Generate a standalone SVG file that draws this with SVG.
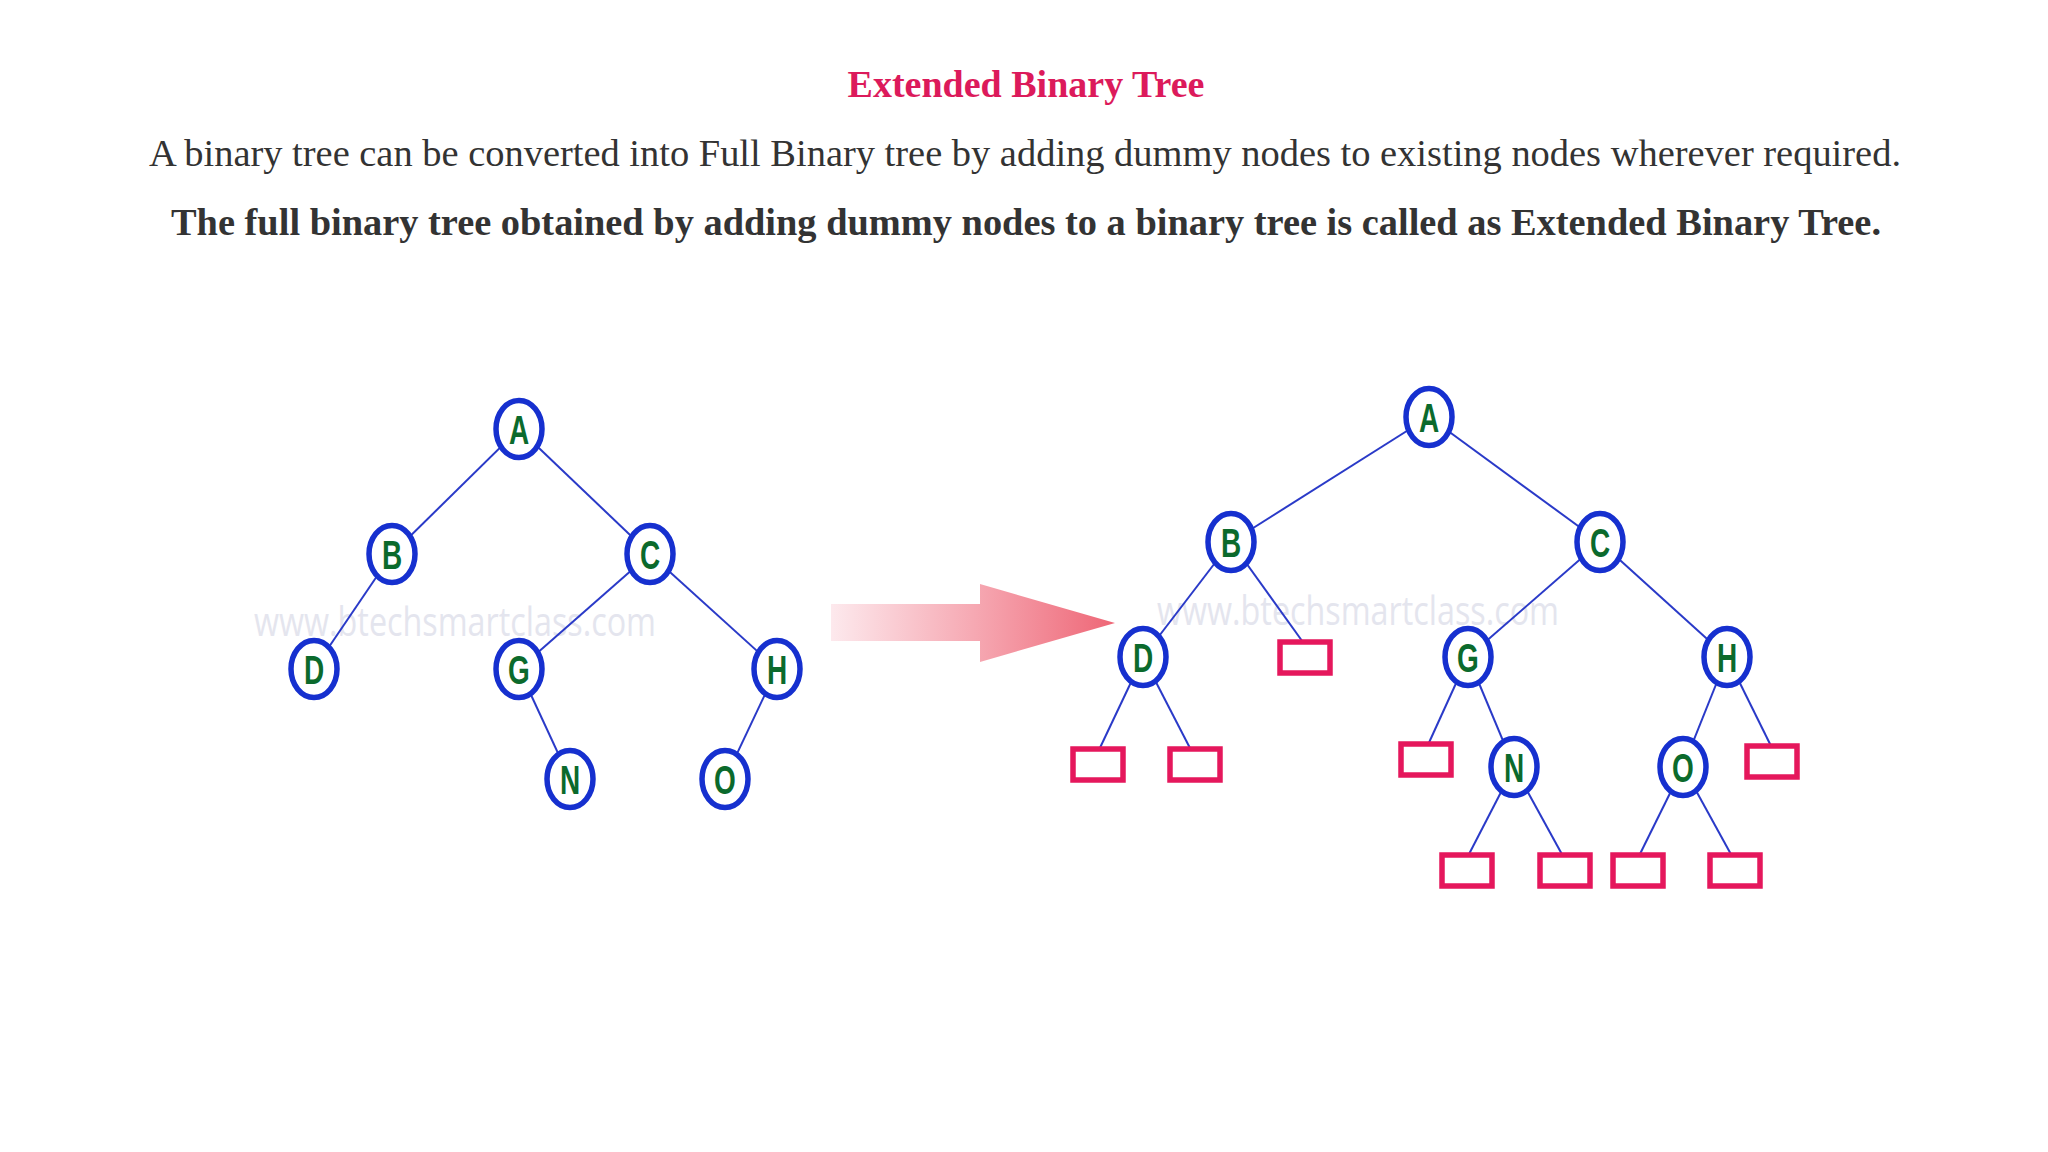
<svg xmlns="http://www.w3.org/2000/svg" width="2048" height="1152" viewBox="0 0 2048 1152">
<defs>
<linearGradient id="arrowGrad" gradientUnits="userSpaceOnUse" x1="831" y1="0" x2="1115" y2="0">
<stop offset="0" stop-color="#fde9ed"/>
<stop offset="0.5" stop-color="#f6a9b3"/>
<stop offset="1" stop-color="#ee6676"/>
</linearGradient>
<style>
.title{font-family:"Liberation Serif","Times New Roman",serif;font-weight:bold;font-size:38px;fill:#dc1a5b;text-anchor:middle}
.body{font-family:"Liberation Serif","Times New Roman",serif;font-size:37.5px;fill:#333333}
.bodyb{font-family:"Liberation Serif","Times New Roman",serif;font-weight:bold;font-size:37.5px;fill:#333333}
.wm{font-family:"Open Sans","Liberation Sans",sans-serif;font-size:40px;fill:#e4e5ee}
.edge{stroke:#2a3ac8;stroke-width:2;fill:none}
.node ellipse{fill:#ffffff;stroke:#1630cf;stroke-width:5.5}
.node text{font-family:"Liberation Sans",Arial,sans-serif;font-weight:bold;font-size:40px;fill:#0b6a2c;text-anchor:middle}
.dummy rect{fill:#ffffff;stroke:#e5175c;stroke-width:5.5}
</style>
</defs>
<rect width="2048" height="1152" fill="#ffffff"/>

<text class="title" x="1026" y="97">Extended Binary Tree</text>
<text class="body" x="149" y="166" textLength="1752" lengthAdjust="spacingAndGlyphs">A binary tree can be converted into Full Binary tree by adding dummy nodes to existing nodes wherever required.</text>
<text class="bodyb" x="171" y="235" textLength="1710" lengthAdjust="spacingAndGlyphs">The full binary tree obtained by adding dummy nodes to a binary tree is called as Extended Binary Tree.</text>

<text class="wm" x="254" y="636" textLength="402" lengthAdjust="spacingAndGlyphs">www.btechsmartclass.com</text>
<text class="wm" x="1157" y="625" textLength="402" lengthAdjust="spacingAndGlyphs">www.btechsmartclass.com</text>

<g id="connectors">
<!-- left tree -->
<line class="edge" x1="519" y1="429" x2="392" y2="554"/>
<line class="edge" x1="519" y1="429" x2="650" y2="554"/>
<line class="edge" x1="392" y1="554" x2="314" y2="669"/>
<line class="edge" x1="650" y1="554" x2="519" y2="669"/>
<line class="edge" x1="650" y1="554" x2="777" y2="669"/>
<line class="edge" x1="519" y1="669" x2="570" y2="779"/>
<line class="edge" x1="777" y1="669" x2="725" y2="779"/>
<!-- right tree -->
<line class="edge" x1="1429" y1="417" x2="1231" y2="542"/>
<line class="edge" x1="1429" y1="417" x2="1600" y2="542"/>
<line class="edge" x1="1231" y1="542" x2="1143" y2="657"/>
<line class="edge" x1="1231" y1="542" x2="1305" y2="645"/>
<line class="edge" x1="1600" y1="542" x2="1468" y2="657"/>
<line class="edge" x1="1600" y1="542" x2="1727" y2="657"/>
<line class="edge" x1="1143" y1="657" x2="1098" y2="752"/>
<line class="edge" x1="1143" y1="657" x2="1192" y2="752"/>
<line class="edge" x1="1468" y1="657" x2="1427" y2="747"/>
<line class="edge" x1="1468" y1="657" x2="1514" y2="767"/>
<line class="edge" x1="1727" y1="657" x2="1683" y2="767"/>
<line class="edge" x1="1727" y1="657" x2="1772" y2="748"/>
<line class="edge" x1="1514" y1="767" x2="1467" y2="858"/>
<line class="edge" x1="1514" y1="767" x2="1564" y2="858"/>
<line class="edge" x1="1683" y1="767" x2="1638" y2="858"/>
<line class="edge" x1="1683" y1="767" x2="1733" y2="858"/>
</g>

<polygon id="arrow" points="831,604 980,604 980,584 1115,623 980,662 980,641 831,641" fill="url(#arrowGrad)"/>

<!-- left tree nodes -->
<g id="L-A" class="node" transform="translate(519,429)"><ellipse rx="23" ry="28.5"/><text y="14.5" transform="scale(0.7,1)">A</text></g>
<g id="L-B" class="node" transform="translate(392,554)"><ellipse rx="23" ry="28.5"/><text y="14.5" transform="scale(0.7,1)">B</text></g>
<g id="L-C" class="node" transform="translate(650,554)"><ellipse rx="23" ry="28.5"/><text y="14.5" transform="scale(0.7,1)">C</text></g>
<g id="L-D" class="node" transform="translate(314,669)"><ellipse rx="23" ry="28.5"/><text y="14.5" transform="scale(0.7,1)">D</text></g>
<g id="L-G" class="node" transform="translate(519,669)"><ellipse rx="23" ry="28.5"/><text y="14.5" transform="scale(0.7,1)">G</text></g>
<g id="L-H" class="node" transform="translate(777,669)"><ellipse rx="23" ry="28.5"/><text y="14.5" transform="scale(0.7,1)">H</text></g>
<g id="L-N" class="node" transform="translate(570,779)"><ellipse rx="23" ry="28.5"/><text y="14.5" transform="scale(0.7,1)">N</text></g>
<g id="L-O" class="node" transform="translate(725,779)"><ellipse rx="23" ry="28.5"/><text y="14.5" transform="scale(0.7,1)">O</text></g>

<!-- right tree nodes -->
<g id="R-A" class="node" transform="translate(1429,417)"><ellipse rx="23" ry="28.5"/><text y="14.5" transform="scale(0.7,1)">A</text></g>
<g id="R-B" class="node" transform="translate(1231,542)"><ellipse rx="23" ry="28.5"/><text y="14.5" transform="scale(0.7,1)">B</text></g>
<g id="R-C" class="node" transform="translate(1600,542)"><ellipse rx="23" ry="28.5"/><text y="14.5" transform="scale(0.7,1)">C</text></g>
<g id="R-D" class="node" transform="translate(1143,657)"><ellipse rx="23" ry="28.5"/><text y="14.5" transform="scale(0.7,1)">D</text></g>
<g id="R-G" class="node" transform="translate(1468,657)"><ellipse rx="23" ry="28.5"/><text y="14.5" transform="scale(0.7,1)">G</text></g>
<g id="R-H" class="node" transform="translate(1727,657)"><ellipse rx="23" ry="28.5"/><text y="14.5" transform="scale(0.7,1)">H</text></g>
<g id="R-N" class="node" transform="translate(1514,767)"><ellipse rx="23" ry="28.5"/><text y="14.5" transform="scale(0.7,1)">N</text></g>
<g id="R-O" class="node" transform="translate(1683,767)"><ellipse rx="23" ry="28.5"/><text y="14.5" transform="scale(0.7,1)">O</text></g>

<!-- dummy nodes -->
<g id="X-B-right" class="dummy"><rect x="1280" y="642" width="50" height="31"/></g>
<g id="X-D-left" class="dummy"><rect x="1073" y="749" width="50" height="31"/></g>
<g id="X-D-right" class="dummy"><rect x="1170" y="749" width="50" height="31"/></g>
<g id="X-G-left" class="dummy"><rect x="1401" y="744" width="50" height="31"/></g>
<g id="X-H-right" class="dummy"><rect x="1747" y="746" width="50" height="31"/></g>
<g id="X-N-left" class="dummy"><rect x="1442" y="855" width="50" height="31"/></g>
<g id="X-N-right" class="dummy"><rect x="1540" y="855" width="50" height="31"/></g>
<g id="X-O-left" class="dummy"><rect x="1613" y="855" width="50" height="31"/></g>
<g id="X-O-right" class="dummy"><rect x="1710" y="855" width="50" height="31"/></g>
</svg>
